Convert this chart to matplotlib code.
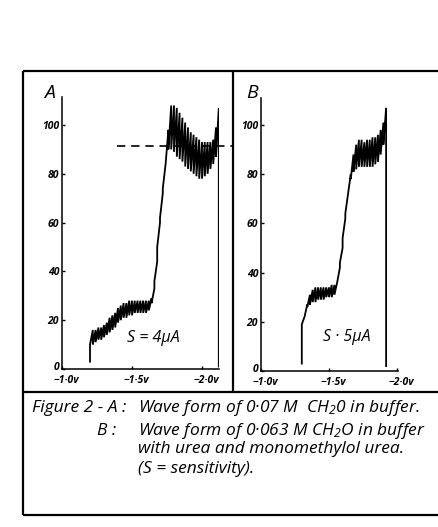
import matplotlib
matplotlib.use("Agg")
import matplotlib.pyplot as plt
from matplotlib.transforms import ScaledTranslation

plt.rcParams['font.family'] = ['Open Sans', 'DejaVu Sans']
plt.rcParams['mathtext.fontset'] = 'custom'
plt.rcParams['mathtext.it'] = 'Open Sans:italic'
plt.rcParams['mathtext.rm'] = 'Open Sans:italic'

# ---------------- data ----------------
# Panel A: polarogram, each drop: voltage, low current, high current
a_volts = [-1.20, -1.22, -1.24, -1.26, -1.28, -1.30, -1.32, -1.34, -1.36, -1.38,
           -1.40, -1.42, -1.44, -1.46, -1.48, -1.50, -1.52, -1.54, -1.56, -1.58,
           -1.60, -1.62, -1.64, -1.66, -1.68, -1.70, -1.72, -1.74, -1.76, -1.78,
           -1.80, -1.82, -1.84, -1.86, -1.88, -1.90, -1.92, -1.94, -1.96, -1.98,
           -2.00, -2.02, -2.04, -2.06, -2.08, -2.10]
a_low = [10, 10, 11, 12, 12, 13, 14, 15, 16, 17,
         19, 20, 21, 21, 22, 22, 23, 23, 23, 23,
         23, 24, 27, 36, 50, 62, 74, 84, 90, 90,
         89, 87, 86, 85, 83, 82, 81, 80, 79, 78,
         78, 79, 80, 82, 84, 87]
a_high = [16, 16, 17, 17, 18, 19, 21, 22, 23, 25,
          26, 27, 27, 28, 28, 28, 28, 28, 28, 28,
          28, 29, 33, 44, 60, 72, 84, 98, 108, 108,
          107, 105, 103, 101, 99, 97, 96, 95, 94, 93,
          93, 93, 93, 94, 99, 107]
a_start_current = 3
a_end_volt = -2.12
a_end_current = 1
a_dash_level = 91.4
a_dash_from = -1.39
a_dash_to = -2.214

# Panel B
b_volts = [-1.30, -1.32, -1.34, -1.36, -1.38, -1.40, -1.42, -1.44, -1.46, -1.48,
           -1.50, -1.52, -1.54, -1.56, -1.58, -1.60, -1.62, -1.64, -1.66, -1.68,
           -1.70, -1.72, -1.74, -1.76, -1.78, -1.80, -1.82, -1.84, -1.86, -1.88,
           -1.90]
b_low = [19, 22, 26, 27, 28, 28, 29, 29, 29, 30,
         30, 30, 31, 36, 44, 54, 64, 72, 78, 81,
         82, 83, 83, 83, 83, 83, 83, 84, 85, 88,
         92]
b_high = [22, 27, 31, 33, 34, 34, 34, 34, 34, 34,
          35, 35, 36, 42, 50, 62, 72, 80, 88, 92,
          94, 94, 93, 94, 94, 95, 95, 96, 98, 101,
          107]
b_start_current = 3
b_end_volt = -1.92
b_end_current = 2

y_ticks = [0, 20, 40, 60, 80, 100]
y_ticklabels = ['0', '20', '40', '60', '80', '100']
x_ticks = [-1.0, -1.5, -2.0]
x_ticklabels_a = ['\u22121\u00b70v', '\u22121\u00b75v', '\u22122\u00b70v']
x_ticklabels_b = ['\u22121\u00b70v', '\u22121\u00b75v', '\u22122\u00b70v']

caption_leads = ['Figure 2 - A :', 'B :']
caption_lines = [
    'Wave form of 0\u00b707 M  CH$_2$0 in buffer.',
    'Wave form of 0\u00b7063 M CH$_2$O in buffer',
    'with urea and monomethylol urea.',
    '(S = sensitivity).',
]

# ---------------- figure ----------------
W, H = 439, 527
fig = plt.figure(figsize=(W / 100, H / 100), dpi=100)
fig.patch.set_facecolor('white')

ov = fig.add_axes([0, 0, 1, 1])
ov.set_xlim(0, W)
ov.set_ylim(H, 0)
ov.axis('off')

frame_kw = dict(color='black', lw=1.6, solid_capstyle='butt')
ov.plot([23, 441], [71, 71], **frame_kw)
ov.plot([23, 23], [71, 515], **frame_kw)
ov.plot([23, 441], [515, 515], **frame_kw)
ov.plot([23, 441], [392, 392], **frame_kw)
ov.plot([233, 233], [71, 392], **frame_kw)


def sawtooth(volts, low, high, start_cur, end_volt, end_cur):
    xs = [volts[0], volts[0]]
    ys = [start_cur, low[0]]
    nxt = list(volts[1:]) + [end_volt]
    for i in range(len(volts)):
        xs += [nxt[i]]
        ys += [high[i]]
        if i + 1 < len(volts):
            xs += [nxt[i]]
            ys += [low[i + 1]]
    xs += [end_volt]
    ys += [end_cur]
    return xs, ys


tick_font = dict(fontsize=7.5, fontweight='bold', fontstyle='italic')


def style_axes(ax, xmax_v, ymax, xlabels):
    ax.set_xlim(-1.0, xmax_v)
    ax.set_ylim(0, ymax)
    for s in ['top', 'right']:
        ax.spines[s].set_visible(False)
    for s in ['left', 'bottom']:
        ax.spines[s].set_linewidth(1.1)
    ax.set_xticks(x_ticks)
    ax.set_xticklabels(xlabels, **tick_font)
    ax.set_yticks(y_ticks)
    ax.set_yticklabels(y_ticklabels, **tick_font)
    ax.tick_params(direction='in', length=2.5, width=1)
    ax.tick_params(axis='x', pad=4)
    ax.tick_params(axis='y', pad=2)
    shift = ScaledTranslation(4 / 100, 0, fig.dpi_scale_trans)
    for lab in ax.get_xticklabels():
        lab.set_transform(lab.get_transform() + shift)
    up = ScaledTranslation(0, 3 / 100, fig.dpi_scale_trans)
    ylabs = ax.get_yticklabels()
    ylabs[0].set_transform(ylabs[0].get_transform() + up)
    ax.patch.set_alpha(0)


axA = fig.add_axes([62 / W, (H - 369) / H, 157 / W, 272 / H])
xs, ys = sawtooth(a_volts, a_low, a_high, a_start_current, a_end_volt, a_end_current)
axA.plot(xs, ys, color='black', lw=1.3, solid_joinstyle='miter')
axA.plot([a_dash_from, a_dash_to], [a_dash_level, a_dash_level], color='black',
         lw=1.2, ls=(0, (5, 3.5)), clip_on=False)
style_axes(axA, -1.0 - 157 / 140, 272 / 2.44, x_ticklabels_a)
axA.text(0.58, 0.115, 'S = 4\u03bcA', transform=axA.transAxes, fontsize=11.5,
         fontstyle='italic', ha='center', va='center')

axB = fig.add_axes([261 / W, (H - 371) / H, 137 / W, 273 / H])
xs, ys = sawtooth(b_volts, b_low, b_high, b_start_current, b_end_volt, b_end_current)
axB.plot(xs, ys, color='black', lw=1.3, solid_joinstyle='miter')
style_axes(axB, -1.0 - 137 / 136, 273 / 2.46, x_ticklabels_b)
axB.text(0.63, 0.125, 'S \u00b7 5\u03bcA', transform=axB.transAxes, fontsize=11.5,
         fontstyle='italic', ha='center', va='center')

ov.text(50, 93, 'A', fontsize=14, fontstyle='italic', ha='center', va='center')
ov.text(252, 93, 'B', fontsize=14, fontstyle='italic', ha='center', va='center')

cap_font = dict(fontsize=12.5, fontstyle='italic', va='center')
ov.text(32, 408, caption_leads[0], ha='left', **cap_font)
ov.text(97, 431, caption_leads[1], ha='left', **cap_font)
ov.text(138, 408, caption_lines[0], ha='left', **cap_font)
ov.text(138, 431, caption_lines[1], ha='left', **cap_font)
ov.text(138, 449, caption_lines[2], ha='left', **cap_font)
ov.text(138, 469, caption_lines[3], ha='left', **cap_font)

fig.savefig('out.png', dpi=100)
